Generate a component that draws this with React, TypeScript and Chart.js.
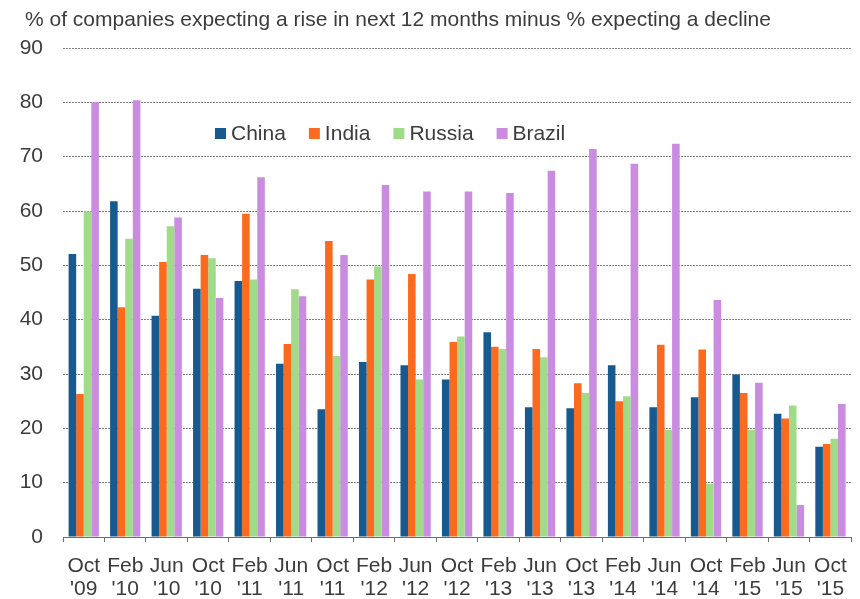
import React, { useEffect, useRef } from "react";
import { Chart, registerables } from "chart.js";

Chart.register(...registerables);

const titleText = "% of companies expecting a rise in next 12 months minus % expecting a decline";

const months = ["Oct", "Feb", "Jun", "Oct", "Feb", "Jun", "Oct", "Feb", "Jun", "Oct", "Feb", "Jun", "Oct", "Feb", "Jun", "Oct", "Feb", "Jun", "Oct"];
const years = ["'09", "'10", "'10", "'10", "'11", "'11", "'11", "'12", "'12", "'12", "'13", "'13", "'13", "'14", "'14", "'14", "'15", "'15", "'15"];

const china = [52.1, 61.8, 40.7, 45.7, 47.1, 31.9, 23.5, 32.2, 31.6, 29.0, 37.7, 23.9, 23.7, 31.6, 23.9, 25.7, 29.9, 22.7, 16.6];
const india = [26.3, 42.3, 50.6, 51.9, 59.5, 35.5, 54.5, 47.4, 48.4, 35.9, 35.0, 34.6, 28.3, 25.0, 35.4, 34.5, 26.5, 21.8, 17.1];
const russia = [59.9, 54.9, 57.2, 51.3, 47.4, 45.6, 33.3, 49.8, 29.0, 36.9, 34.6, 33.1, 26.5, 25.9, 19.7, 9.8, 19.7, 24.2, 18.1];
const brazil = [80.0, 80.4, 58.8, 44.0, 66.2, 44.3, 51.9, 64.8, 63.6, 63.6, 63.3, 67.4, 71.4, 68.7, 72.4, 43.6, 28.4, 5.9, 24.5];

const seriesNames = ["China", "India", "Russia", "Brazil"];
const seriesColors = ["#175A8F", "#FC6A1E", "#A0DB8A", "#C98CE0"];

const FONT = "'Liberation Sans', Arial, sans-serif";
const TEXT = "#3c3c3c";

const overlayPlugin = {
  id: "overlay",
  afterDraw(chart: any) {
    const ctx = chart.ctx;
    ctx.save();
    ctx.fillStyle = TEXT;
    ctx.font = `21px ${FONT}`;
    ctx.textBaseline = "alphabetic";
    ctx.textAlign = "left";
    ctx.fillText(titleText, 25, 26);
    // legend
    let x = 215;
    chart.data.datasets.forEach((ds: any) => {
      ctx.fillStyle = ds.backgroundColor;
      ctx.fillRect(x, 128, 11, 11);
      ctx.fillStyle = TEXT;
      ctx.fillText(ds.label, x + 16, 140);
      x += 16 + ctx.measureText(ds.label).width + 23;
    });
    ctx.restore();
  },
};

export default function App() {
  const ref = useRef<HTMLCanvasElement | null>(null);
  useEffect(() => {
    if (!ref.current) return;
    const seriesData = [china, india, russia, brazil];
    const chart = new Chart(ref.current, {
      type: "bar",
      data: {
        labels: months.map((m, i) => [m, years[i]]),
        datasets: seriesNames.map((name, i) => ({
          label: name,
          data: seriesData[i],
          backgroundColor: seriesColors[i],
          borderWidth: 0,
          categoryPercentage: 0.73,
          barPercentage: 1.0,
        })),
      },
      options: {
        responsive: false,
        animation: false,
        devicePixelRatio: 1,
        layout: { padding: { top: 48, right: 8, left: 0, bottom: 0 } },
        plugins: { legend: { display: false }, title: { display: false }, tooltip: { enabled: false } },
        scales: {
          x: {
            grid: { display: true, drawOnChartArea: false, drawTicks: true, tickLength: 5, color: "#6e6e6e", offset: true },
            border: { display: true, color: "#6e6e6e", width: 1 },
            ticks: { color: TEXT, font: { family: FONT, size: 21, lineHeight: 1.1 }, padding: 13, maxRotation: 0, autoSkip: false },
            afterFit: (s: any) => { s.height = 62; },
          },
          y: {
            min: 0,
            max: 90,
            grid: { color: "#7e7e7e", drawTicks: false, lineWidth: 1 },
            border: { display: false, dash: [2, 1] },
            ticks: { stepSize: 10, color: TEXT, font: { family: FONT, size: 21 }, padding: 20 },
            afterFit: (s: any) => { s.width = 63; },
          },
        },
      },
      plugins: [overlayPlugin],
    });
    return () => chart.destroy();
  }, []);
  return (
    <div style={{ position: "fixed", left: 0, top: 0, width: 860, height: 599, background: "#fff" }}>
      <canvas ref={ref} width={860} height={599} style={{ display: "block" }} />
    </div>
  );
}
